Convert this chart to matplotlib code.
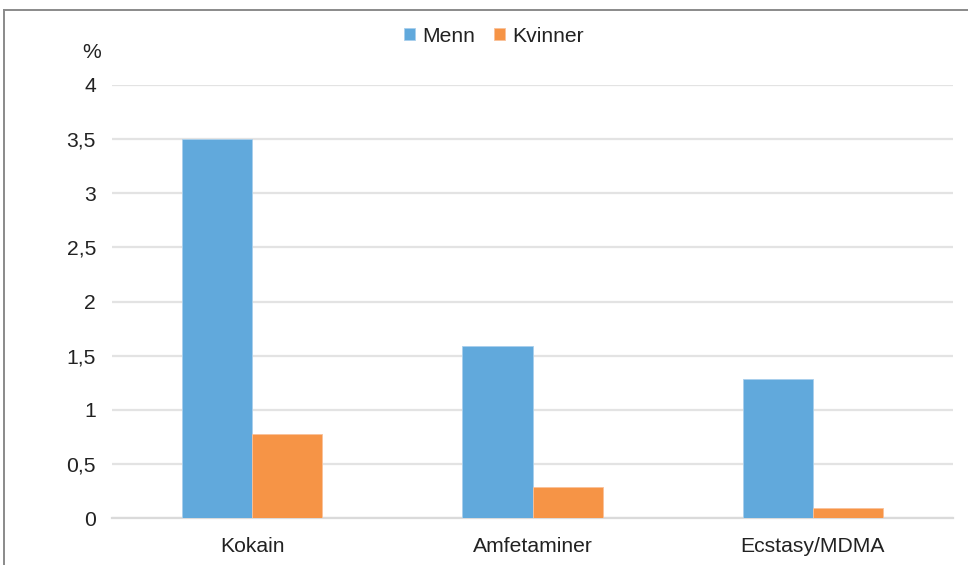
import matplotlib
matplotlib.use("Agg")
import matplotlib.pyplot as plt
from matplotlib.lines import Line2D
import numpy as np

categories = ["Kokain", "Amfetaminer", "Ecstasy/MDMA"]
menn = [3.5, 1.59, 1.28]
kvinner = [0.78, 0.29, 0.09]
yticks = [0, 0.5, 1, 1.5, 2, 2.5, 3, 3.5, 4]
ytick_labels = ["0", "0,5", "1", "1,5", "2", "2,5", "3", "3,5", "4"]

plt.rcParams['font.family'] = ['Liberation Sans', 'DejaVu Sans']
txt = '#222222'
fs = 15.2

fig = plt.figure(figsize=(9.68, 5.65), dpi=100)
ax = fig.add_axes([112/968, (565-518)/565, (953-112)/968, (518-85)/565])

x = np.arange(len(categories))
w = 0.25
ax.bar(x - w/2, menn, width=w, color='#61A9DC', edgecolor='#A9CFEC', linewidth=0.6, label='Menn', zorder=3)
ax.bar(x + w/2, kvinner, width=w, color='#F69446', edgecolor='#F9C19A', linewidth=0.6, label='Kvinner', zorder=3)

ax.set_xlim(-0.5, 2.5)
ax.set_ylim(0, 4)
ax.set_yticks(yticks)
ax.set_yticklabels(ytick_labels)
ax.set_xticks(x)
ax.set_xticklabels(categories)
ax.tick_params(axis='both', length=0, labelsize=fs, colors=txt)
ax.tick_params(axis='y', pad=11.5)
ax.tick_params(axis='x', pad=13.5)
ax.yaxis.grid(True, color='#E3E3E3', linewidth=1.6, zorder=0)
ax.set_axisbelow(True)
for s in ax.spines.values():
    s.set_visible(False)
ax.axhline(0, color='#DADADA', linewidth=1.6, zorder=2, clip_on=False)

fig.text(92/968, 1 - 53/565, '%', fontsize=fs, color=txt, ha='center', va='center')

leg = fig.legend(loc='center', bbox_to_anchor=(494/968, 1 - 36/565), ncol=2, frameon=False,
                 fontsize=fs, handlelength=0.5, handleheight=0.5, handletextpad=0.35,
                 columnspacing=0.9, borderaxespad=0)
for t in leg.get_texts():
    t.set_color(txt)

fig.add_artist(Line2D([4/968, 1.0], [1 - 10/565, 1 - 10/565], transform=fig.transFigure, color='#8A8A8A', linewidth=1.4))
fig.add_artist(Line2D([4/968, 4/968], [0, 1 - 10/565], transform=fig.transFigure, color='#8A8A8A', linewidth=1.4))

fig.savefig('out.png', dpi=100)
